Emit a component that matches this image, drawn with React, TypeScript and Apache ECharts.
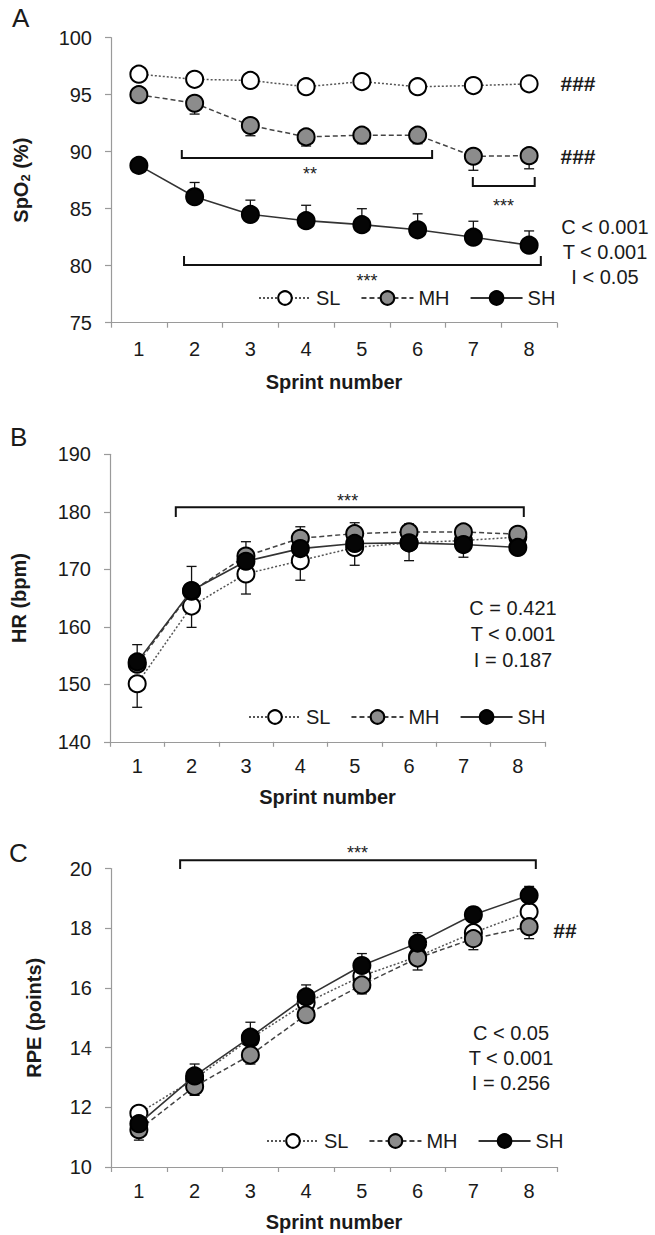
import React, { useEffect, useRef } from "react";
import * as echarts from "echarts";

// ---------- data ----------
const sprintLabels = ["1", "2", "3", "4", "5", "6", "7", "8"];
const groupNames = ["SL", "MH", "SH"];

// Panel A: SpO2 (%)
const spo2Ticks = [75, 80, 85, 90, 95, 100];
const spo2SL = [96.8, 96.35, 96.25, 95.7, 96.15, 95.7, 95.8, 95.95];
const spo2MH = [95.0, 94.25, 92.3, 91.3, 91.45, 91.45, 89.6, 89.65];
const spo2SH = [88.8, 86.05, 84.5, 83.95, 83.6, 83.15, 82.5, 81.8];
const spo2SLErr = [0.3, 0.3, 0.3, 0.3, 0.3, 0.3, 0.3, 0.3];
const spo2MHErr = [0.6, 0.95, 0.9, 0.8, 0.75, 0.75, 1.23, 1.15];
const spo2SHErr = [0.4, 1.25, 1.25, 1.35, 1.4, 1.4, 1.4, 1.25];

// Panel B: HR (bpm)
const hrTicks = [140, 150, 160, 170, 180, 190];
const hrSL = [150.1, 163.6, 169.2, 171.5, 173.8, 174.6, 175.0, 175.6];
const hrMH = [153.5, 166.2, 172.3, 175.4, 176.2, 176.5, 176.5, 176.1];
const hrSH = [153.9, 166.3, 171.4, 173.6, 174.5, 174.6, 174.3, 173.8];
const hrSLErr = [4.1, 3.7, 3.5, 3.4, 3.1, 3.1, 2.9, 1.5];
const hrMHErr = [1.0, 1.0, 2.5, 2.0, 1.9, 1.4, 1.2, 1.0];
const hrSHErr = [3.0, 4.2, 1.0, 1.0, 1.0, 1.0, 1.0, 1.0];

// Panel C: RPE (points)
const rpeTicks = [10, 12, 14, 16, 18, 20];
const rpeSL = [11.8, 12.95, 14.3, 15.5, 16.4, 17.05, 17.85, 18.55];
const rpeMH = [11.25, 12.7, 13.75, 15.1, 16.1, 17.0, 17.65, 18.05];
const rpeSH = [11.45, 13.05, 14.35, 15.7, 16.75, 17.5, 18.45, 19.1];
const rpeSLErr = [0.2, 0.2, 0.2, 0.2, 0.2, 0.2, 0.2, 0.2];
const rpeMHErr = [0.35, 0.3, 0.3, 0.25, 0.3, 0.4, 0.37, 0.4];
const rpeSHErr = [0.3, 0.4, 0.5, 0.4, 0.4, 0.35, 0.25, 0.3];

// significance brackets (sprint positions, y values in data units)
const bracketsA = [
  { from: 1.77, to: 6.26, y: 89.45, end: 90.15, label: "**", lx: 4.07, ly: 88.4 },
  { from: 6.99, to: 8.1, y: 86.99, end: 87.78, label: "***", lx: 7.54, ly: 85.6 },
  { from: 1.81, to: 8.21, y: 80.06, end: 80.85, label: "***", lx: 5.09, ly: 79.0 },
];
const bracketsB = [
  { from: 1.71, to: 8.11, y: 180.8, end: 179.1, label: "***", lx: 4.87, ly: 182.6 },
];
const bracketsC = [
  { from: 1.74, to: 8.12, y: 20.28, end: 19.98, label: "***", lx: 4.92, ly: 20.65 },
];

const statsA = ["C < 0.001", "T < 0.001", "I < 0.05"];
const statsB = ["C = 0.421", "T < 0.001", "I = 0.187"];
const statsC = ["C < 0.05", "T < 0.001", "I = 0.256"];

// ---------- styling ----------
const FONT = '"Liberation Sans", Arial, Helvetica, sans-serif';
const TXT = "#1a1a1a";
const AXIS = "#9a9a9a";

const grids = [
  { left: 111, top: 37.7, width: 446, height: 285 },
  { left: 110, top: 454.3, width: 435, height: 287.5 },
  { left: 111, top: 868.5, width: 446, height: 298.5 },
];

const lineStyleFor: Record<string, any> = {
  SL: { type: [2, 2], color: "#555", width: 1.5 },
  MH: { type: [5, 3], color: "#444", width: 1.5 },
  SH: { type: "solid", color: "#333", width: 1.6 },
};
const fillFor: Record<string, string> = { SL: "#ffffff", MH: "#8c8c8c", SH: "#050505" };

function lineSeries(gi: number, name: string, values: number[], z: number) {
  return {
    type: "line",
    name,
    xAxisIndex: gi,
    yAxisIndex: gi,
    data: values,
    symbol: "circle",
    symbolSize: 17,
    z,
    lineStyle: lineStyleFor[name],
    itemStyle: { color: fillFor[name], borderColor: "#000", borderWidth: 2 },
    emphasis: { disabled: true },
  };
}

function errorSeries(gi: number, means: number[], errs: number[], dir: number) {
  return {
    type: "custom",
    xAxisIndex: gi,
    yAxisIndex: gi,
    z: 1,
    silent: true,
    data: means.map((m, i) => [i, m, m + dir * errs[i]]),
    encode: { x: 0, y: [1, 2] },
    renderItem: (params: any, api: any) => {
      const i = api.value(0);
      const p0 = api.coord([i, api.value(1)]);
      const p1 = api.coord([i, api.value(2)]);
      const cap = 5;
      const st = { stroke: "#111", lineWidth: 1.3 };
      return {
        type: "group",
        children: [
          { type: "line", shape: { x1: p0[0], y1: p0[1], x2: p1[0], y2: p1[1] }, style: st },
          { type: "line", shape: { x1: p1[0] - cap, y1: p1[1], x2: p1[0] + cap, y2: p1[1] }, style: st },
        ],
      };
    },
  };
}

function bracketSeries(gi: number, list: any[]) {
  return {
    type: "custom",
    xAxisIndex: gi,
    yAxisIndex: gi,
    z: 5,
    silent: true,
    clip: false,
    data: list.map((b) => [0, b.y]),
    encode: { x: 0, y: 1 },
    renderItem: (params: any, api: any) => {
      const b = list[params.dataIndex];
      const base = api.coord([0, b.y]);
      const band = api.size([1, 0])[0];
      const xAt = (s: number) => base[0] + (s - 1) * band;
      const yL = base[1];
      const yE = api.coord([0, b.end])[1];
      const yT = api.coord([0, b.ly])[1];
      const x1 = xAt(b.from);
      const x2 = xAt(b.to);
      return {
        type: "group",
        children: [
          {
            type: "polyline",
            shape: { points: [[x1, yE], [x1, yL], [x2, yL], [x2, yE]] },
            style: { stroke: "#111", lineWidth: 2, fill: "none" },
          },
          {
            type: "text",
            x: xAt(b.lx),
            y: yT + 4,
            style: {
              text: b.label,
              fill: "#222",
              fontSize: 18,
              fontFamily: FONT,
              align: "center",
              verticalAlign: "middle",
              textAlign: "center",
              textVerticalAlign: "middle",
            },
          },
        ],
      };
    },
  };
}

function xAxisFor(gi: number, labelMargin: number, nameGap: number) {
  return {
    type: "category",
    gridIndex: gi,
    data: sprintLabels,
    boundaryGap: true,
    name: "Sprint number",
    nameLocation: "middle",
    nameGap,
    nameTextStyle: { fontFamily: FONT, fontSize: 20, fontWeight: "bold", color: TXT },
    axisLine: { show: true, lineStyle: { color: AXIS, width: 1.2 } },
    axisTick: { show: true, alignWithLabel: false, length: 5, inside: false, lineStyle: { color: AXIS, width: 1.2 } },
    axisLabel: { fontFamily: FONT, fontSize: 20, color: TXT, margin: labelMargin },
    splitLine: { show: false },
  };
}

function yAxisFor(gi: number, ticks: number[], name: string, nameGap: number, rich?: any) {
  return {
    type: "value",
    gridIndex: gi,
    min: ticks[0],
    max: ticks[ticks.length - 1],
    interval: ticks[1] - ticks[0],
    name,
    nameLocation: "middle",
    nameGap,
    nameRotate: 90,
    nameTextStyle: { fontFamily: FONT, fontSize: 20, fontWeight: "bold", color: TXT, rich },
    axisLine: { show: true, lineStyle: { color: AXIS, width: 1.2 } },
    axisTick: { show: true, length: 6, inside: false, lineStyle: { color: AXIS, width: 1.2 } },
    axisLabel: { fontFamily: FONT, fontSize: 20, color: TXT, margin: 19 },
    splitLine: { show: false },
  };
}

function legendFor(left: number, top: number) {
  return {
    data: groupNames,
    orient: "horizontal",
    left,
    top,
    padding: 0,
    itemWidth: 52,
    itemHeight: 17,
    itemGap: 20,
    selectedMode: false,
    textStyle: { fontFamily: FONT, fontSize: 20, color: TXT, padding: [0, 0, 0, 0] },
  };
}

function txt(x: number, y: number, text: string, size: number, opts: any = {}) {
  return {
    type: "text",
    x,
    y,
    silent: true,
    style: {
      text,
      fill: TXT,
      fontSize: size,
      fontFamily: FONT,
      fontWeight: opts.weight || "normal",
      align: opts.align || "center",
      textAlign: opts.align || "center",
      verticalAlign: "middle",
      textVerticalAlign: "middle",
    },
  };
}

export default function App() {
  const ref = useRef<HTMLDivElement>(null);
  useEffect(() => {
    if (!ref.current) return;
    const chart = echarts.init(ref.current, undefined, { renderer: "svg" });
    const spoRich = {
      b: { fontFamily: FONT, fontSize: 20, fontWeight: "bold", color: TXT },
      s: { fontFamily: FONT, fontSize: 13, fontWeight: "bold", color: TXT, verticalAlign: "bottom", padding: [9, 0, 0, 0] },
    };
    const option: any = {
      animation: false,
      backgroundColor: "#ffffff",
      grid: grids.map((g) => ({ ...g, containLabel: false })),
      xAxis: [xAxisFor(0, 16, 49), xAxisFor(1, 14, 45), xAxisFor(2, 14, 45)],
      yAxis: [
        yAxisFor(0, spo2Ticks, "{b|SpO}{s|2}{b| (%)}", 79, spoRich),
        yAxisFor(1, hrTicks, "HR (bpm)", 81),
        yAxisFor(2, rpeTicks, "RPE (points)", 67),
      ],
      legend: [legendFor(258, 288), legendFor(248, 707), legendFor(266, 1131)],
      series: [
        errorSeries(0, spo2SL, spo2SLErr, 1),
        errorSeries(0, spo2MH, spo2MHErr, -1),
        errorSeries(0, spo2SH, spo2SHErr, 1),
        lineSeries(0, "SL", spo2SL, 2),
        lineSeries(0, "MH", spo2MH, 3),
        lineSeries(0, "SH", spo2SH, 4),
        bracketSeries(0, bracketsA),

        errorSeries(1, hrSL, hrSLErr, -1),
        errorSeries(1, hrMH, hrMHErr, 1),
        errorSeries(1, hrSH, hrSHErr, 1),
        lineSeries(1, "SL", hrSL, 2),
        lineSeries(1, "MH", hrMH, 3),
        lineSeries(1, "SH", hrSH, 4),
        bracketSeries(1, bracketsB),

        errorSeries(2, rpeSL, rpeSLErr, 1),
        errorSeries(2, rpeMH, rpeMHErr, -1),
        errorSeries(2, rpeSH, rpeSHErr, 1),
        lineSeries(2, "SL", rpeSL, 2),
        lineSeries(2, "MH", rpeMH, 3),
        lineSeries(2, "SH", rpeSH, 4),
        bracketSeries(2, bracketsC),
      ],
      graphic: [
        txt(12, 18, "A", 26, { align: "left" }),
        txt(10, 437, "B", 26, { align: "left" }),
        txt(9, 853, "C", 26, { align: "left" }),
        txt(578, 83, "###", 21, { weight: "bold" }),
        txt(578, 156, "###", 21, { weight: "bold" }),
        txt(565, 930, "##", 21, { weight: "bold" }),
        ...statsA.map((s, i) => txt(605, 227 + i * 25, s, 20)),
        ...statsB.map((s, i) => txt(513, 608 + i * 26, s, 20)),
        ...statsC.map((s, i) => txt(511, 1033 + i * 25, s, 20)),
      ],
    };
    chart.setOption(option);
    return () => chart.dispose();
  }, []);
  return (
    <div
      ref={ref}
      style={{ position: "absolute", left: 0, top: 0, width: 655, height: 1235, background: "#fff" }}
    />
  );
}
